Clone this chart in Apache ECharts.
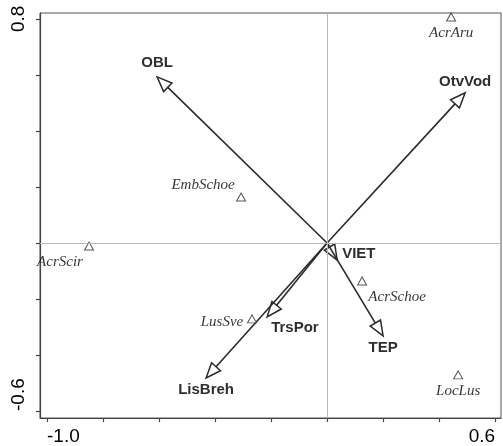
<!DOCTYPE html>
<html>
<head>
<meta charset="utf-8">
<script src="https://cdn.jsdelivr.net/npm/echarts@6/dist/echarts.min.js"></script>
<style>
  html, body { margin: 0; padding: 0; background: #fff; }
  #chart { width: 503px; height: 446px; }
</style>
</head>
<body>
<div id="chart"></div>
<script>
// Species scores (triangles)
const speciesNames = ['AcrAru', 'EmbSchoe', 'AcrScir', 'LusSve', 'AcrSchoe', 'LocLus'];
const speciesX = [0.443, -0.307, -0.850, -0.268, 0.125, 0.468];
const speciesY = [0.807, 0.164, -0.011, -0.271, -0.136, -0.471];

// Environmental variable biplot arrows
const envNames = ['OBL', 'OtvVod', 'VIET', 'TEP', 'TrsPor', 'LisBreh'];
const envX = [-0.607, 0.493, 0.036, 0.200, -0.214, -0.432];
const envY = [0.593, 0.536, -0.061, -0.332, -0.264, -0.482];

// Axis ticks and labels
const xTicks = [-1.0, -0.8, -0.6, -0.4, -0.2, 0.0, 0.2, 0.4, 0.6];
const yTicks = [-0.6, -0.4, -0.2, 0.0, 0.2, 0.4, 0.6, 0.8];
const xTickLabels = [-1.0, 0.6];
const yTickLabels = [-0.6, 0.8];

// Label placement (pixel offsets of label centre from the mark)
const speciesLabelOffset = {
  AcrAru: [0, 16], EmbSchoe: [-38, -12], AcrScir: [-29, 16],
  LusSve: [-30, 3], AcrSchoe: [35, 16], LocLus: [0, 16]
};
const envLabelOffset = {
  OBL: [0, -14, 'center'], OtvVod: [0, -11, 'center'], VIET: [5, -6, 'left'],
  TEP: [0, 12, 'center'], TrsPor: [4, 11, 'left'], LisBreh: [0, 12, 'center']
};

const INK = '#2a2a2a';
const chart = echarts.init(document.getElementById('chart'), null, { renderer: 'canvas' });

const speciesData = speciesNames.map((n, i) => ({
  name: n,
  value: [speciesX[i], speciesY[i]],
  label: { offset: speciesLabelOffset[n] }
}));
const envData = envNames.map((n, i) => [envX[i], envY[i], n]);

function renderArrow(params, api) {
  const tip = api.coord([api.value(0), api.value(1)]);
  const origin = api.coord([0, 0]);
  const name = envNames[params.dataIndex];
  const dx = tip[0] - origin[0], dy = tip[1] - origin[1];
  const len = Math.sqrt(dx * dx + dy * dy);
  const ux = dx / len, uy = dy / len;
  const headLen = 15, headHalf = 6;
  const bx = tip[0] - ux * headLen, by = tip[1] - uy * headLen;
  const px = -uy, py = ux;
  const off = envLabelOffset[name];
  return {
    type: 'group',
    children: [
      {
        type: 'line',
        shape: { x1: origin[0], y1: origin[1], x2: bx, y2: by },
        style: { stroke: INK, lineWidth: 1.6 }
      },
      {
        type: 'polygon',
        shape: { points: [tip, [bx + px * headHalf, by + py * headHalf], [bx - px * headHalf, by - py * headHalf]] },
        style: { fill: '#fff', stroke: INK, lineWidth: 1.5 }
      },
      {
        type: 'text',
        style: {
          text: name,
          x: tip[0] + off[0],
          y: tip[1] + off[1],
          align: off[2],
          verticalAlign: 'middle',
          fill: '#2e2e2e',
          fontFamily: '"Liberation Sans", Arial, sans-serif',
          fontWeight: 'bold',
          fontSize: 15
        }
      }
    ]
  };
}

const axisFont = { fontFamily: '"Liberation Sans", Arial, sans-serif', fontSize: 19, color: '#000' };

chart.setOption({
  animation: false,
  backgroundColor: '#fff',
  grid: {
    left: 40, right: 2, top: 13, bottom: 28,
    show: true, borderColor: '#555', borderWidth: 1, backgroundColor: 'transparent'
  },
  xAxis: {
    type: 'value',
    min: -1.025, max: 0.621,
    splitLine: { show: false },
    axisLine: { show: true, onZero: false, lineStyle: { color: '#444', width: 1.2 } },
    axisTick: { show: true, customValues: xTicks, length: 4, lineStyle: { color: '#444', width: 1.2 } },
    axisLabel: Object.assign({
      customValues: xTickLabels,
      formatter: v => v.toFixed(1),
      margin: 9,
      alignMinLabel: 'left',
      alignMaxLabel: 'right'
    }, axisFont)
  },
  yAxis: {
    type: 'value',
    min: -0.625, max: 0.821,
    splitLine: { show: false },
    axisLine: { show: true, onZero: false, lineStyle: { color: '#444', width: 1.2 } },
    axisTick: { show: true, customValues: yTicks, length: 4, lineStyle: { color: '#444', width: 1.2 } },
    axisLabel: Object.assign({
      customValues: yTickLabels,
      formatter: v => v.toFixed(1),
      rotate: 90,
      margin: 12,
      alignMinLabel: 'left'
    }, axisFont)
  },
  series: [
    {
      // zero reference lines
      type: 'scatter',
      data: [],
      z: 1,
      markLine: {
        silent: true,
        symbol: ['none', 'none'],
        label: { show: false },
        lineStyle: { color: '#b8b8b8', width: 1, type: 'solid' },
        data: [{ xAxis: 0 }, { yAxis: 0 }]
      }
    },
    {
      type: 'custom',
      z: 3,
      renderItem: renderArrow,
      data: envData
    },
    {
      type: 'scatter',
      z: 4,
      symbol: 'triangle',
      symbolSize: [9, 8],
      itemStyle: { color: '#fff', borderColor: INK, borderWidth: 1 },
      label: {
        show: true,
        position: 'inside',
        formatter: p => p.name,
        align: 'center',
        verticalAlign: 'middle',
        color: '#000',
        fontFamily: '"Liberation Serif", "Times New Roman", serif',
        fontStyle: 'italic',
        fontSize: 15
      },
      data: speciesData
    }
  ]
});
</script>
</body>
</html>
